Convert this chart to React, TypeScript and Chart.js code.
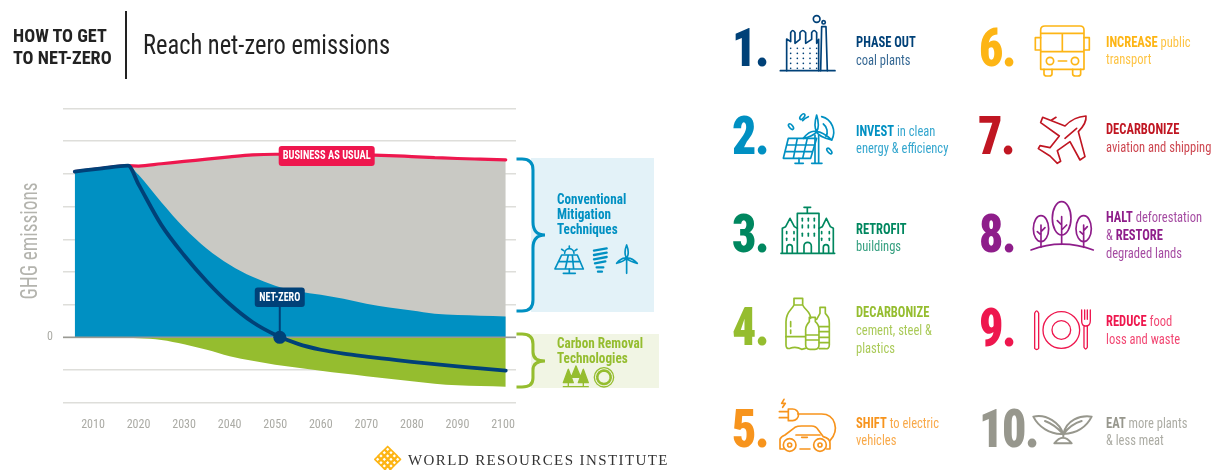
import React, { useEffect, useRef } from "react";
import { Chart, registerables } from "chart.js";

Chart.register(...registerables);

const FACE = "Roboto, sans-serif";

// Emission pathways, in gridline units, sampled on a shared list of years.
const years = [2006, 2012, 2017.7, 2020, 2025, 2030, 2035, 2040, 2045, 2050, 2055, 2060, 2065, 2070, 2075, 2080, 2085, 2090, 2095, 2100.6];
const businessAsUsual = [5.07, 5.17, 5.25, 5.24, 5.31, 5.38, 5.45, 5.52, 5.58, 5.6, 5.6, 5.6, 5.59, 5.58, 5.56, 5.53, 5.5, 5.47, 5.45, 5.43];
const withMitigation = [5.07, 5.17, 5.25, 4.97, 4.13, 3.35, 2.71, 2.22, 1.85, 1.58, 1.41, 1.3, 1.18, 1.03, 0.91, 0.82, 0.72, 0.68, 0.66, 0.64];
const carbonRemoval = [0, -0.005, -0.015, -0.03, -0.08, -0.21, -0.38, -0.58, -0.72, -0.84, -0.93, -1.02, -1.11, -1.19, -1.27, -1.34, -1.42, -1.47, -1.49, -1.51];
const netEmissions = [5.07, 5.17, 5.25, 4.68, 3.44, 2.51, 1.71, 1.02, 0.47, 0.08, -0.2, -0.38, -0.5, -0.59, -0.67, -0.75, -0.82, -0.89, -0.95, -1.02];

const tickYears = [2010, 2020, 2030, 2040, 2050, 2060, 2070, 2080, 2090, 2100];
const netZeroYear = 2051;
const xRange = [2003.42, 2102.85];
const yRange = [-2, 7];

const BLUE = "#0090C2";
const NAVY = "#004178";
const GREEN = "#95BD2F";
const RED = "#EE174E";

type Run = [string, boolean];
type Step = { n: string; x: number; base: number; color: string; tx: number; cy: number[]; lines: Run[][] };

const steps: Step[] = [
  { n: "1.", x: 732, base: 66, color: NAVY, tx: 856, cy: [43, 61], lines: [[["PHASE OUT", true]], [["coal plants", false]]] },
  { n: "2.", x: 732, base: 154, color: BLUE, tx: 856, cy: [132, 149], lines: [[["INVEST", true], [" in clean", false]], [["energy & efficiency", false]]] },
  { n: "3.", x: 732, base: 252, color: "#00875F", tx: 856, cy: [230, 247], lines: [[["RETROFIT", true]], [["buildings", false]]] },
  { n: "4.", x: 732, base: 345, color: GREEN, tx: 856, cy: [313, 331, 349], lines: [[["DECARBONIZE", true]], [["cement, steel &", false]], [["plastics", false]]] },
  { n: "5.", x: 732, base: 447, color: "#F7941D", tx: 856, cy: [424, 441], lines: [[["SHIFT", true], [" to electric", false]], [["vehicles", false]]] },
  { n: "6.", x: 979, base: 66, color: "#FDB515", tx: 1106, cy: [43, 60], lines: [[["INCREASE", true], [" public", false]], [["transport", false]]] },
  { n: "7.", x: 978, base: 154, color: "#C01622", tx: 1106, cy: [130, 148], lines: [[["DECARBONIZE", true]], [["aviation and shipping", false]]] },
  { n: "8.", x: 979, base: 252, color: "#8E1D8A", tx: 1106, cy: [218, 236, 254], lines: [[["HALT", true], [" deforestation", false]], [["& ", false], ["RESTORE", true]], [["degraded lands", false]]] },
  { n: "9.", x: 979, base: 346, color: RED, tx: 1106, cy: [322, 340], lines: [[["REDUCE", true], [" food", false]], [["loss and waste", false]]] },
  { n: "10.", x: 979, base: 447, color: "#97978D", tx: 1106, cy: [424, 441], lines: [[["EAT", true], [" more plants", false]], [["& less meat", false]]] },
];

// Pill labels and the marker stem, placed through the chart's own scales.
const calloutPlugin = {
  id: "callouts",
  afterDatasetsDraw(chart: any) {
    const { ctx, scales } = chart;
    const pill = (cx: number, cy: number, w: number, h: number, textW: number, color: string, text: string) => {
      ctx.save();
      ctx.fillStyle = color;
      ctx.beginPath();
      ctx.roundRect(cx - w / 2, cy - h / 2, w, h, 3);
      ctx.fill();
      ctx.fillStyle = "#fff";
      ctx.font = `bold condensed 12px ${FACE}`;
      ctx.textAlign = "center";
      ctx.textBaseline = "middle";
      ctx.fillText(text, cx, cy + 0.5, textW);
      ctx.restore();
    };
    const nx = scales.x.getPixelForValue(netZeroYear);
    const ny = scales.y.getPixelForValue(0);
    ctx.save();
    ctx.strokeStyle = NAVY;
    ctx.lineWidth = 2;
    ctx.beginPath();
    ctx.moveTo(nx, ny);
    ctx.lineTo(nx, ny - 32);
    ctx.stroke();
    ctx.restore();
    pill(nx, ny - 40, 50, 19.5, 41, NAVY, "NET-ZERO");
    pill(scales.x.getPixelForValue(2061.3), scales.y.getPixelForValue(5.55), 96, 20, 88, RED, "BUSINESS AS USUAL");
  },
};

function PathwayChart() {
  const ref = useRef<HTMLCanvasElement>(null);
  useEffect(() => {
    const toPoints = (values: number[]) => values.map((y, i) => ({ x: years[i], y }));
    const area = { cubicInterpolationMode: "monotone" as const, pointRadius: 0 };
    const tickFont = { family: FACE, size: 12, weight: "condensed" };
    const chart = new Chart(ref.current!, {
      type: "line",
      data: {
        datasets: [
          { label: "Business as usual", data: toPoints(businessAsUsual), order: 6, fill: "origin", backgroundColor: "#C9C9C4", borderColor: RED, borderWidth: 3.2, borderCapStyle: "round", ...area },
          { label: "Conventional mitigation", data: toPoints(withMitigation), order: 5, fill: "origin", backgroundColor: BLUE, borderWidth: 0, ...area },
          { label: "Carbon removal", data: toPoints(carbonRemoval), order: 4, fill: "origin", backgroundColor: GREEN, borderWidth: 0, ...area },
          { label: "Zero", data: [{ x: xRange[0], y: 0 }, { x: xRange[1], y: 0 }], order: 3, borderColor: "#9A9A94", borderWidth: 1.6, pointRadius: 0, fill: false },
          { label: "Net emissions", data: toPoints(netEmissions), order: 2, fill: false, borderColor: NAVY, borderWidth: 3.8, borderCapStyle: "round", ...area },
          { label: "Net-zero", data: [{ x: netZeroYear, y: 0 }], order: 1, showLine: false, pointRadius: 6.5, pointBackgroundColor: NAVY, pointBorderWidth: 0 },
        ] as any,
      },
      options: {
        animation: false,
        responsive: false,
        parsing: false,
        layout: { padding: { top: 108.5, right: 696, left: 0, bottom: 0 } },
        plugins: { legend: { display: false }, tooltip: { enabled: false } },
        scales: {
          x: {
            type: "linear",
            min: xRange[0],
            max: xRange[1],
            afterBuildTicks: (s: any) => { s.ticks = tickYears.map((value) => ({ value })); },
            afterFit: (s: any) => { s.height = 67.3; },
            grid: { display: false },
            border: { display: false },
            ticks: { color: "#ABABA5", font: tickFont, padding: 7, autoSkip: false, maxRotation: 0, callback: (v: any) => String(v) },
          },
          y: {
            min: yRange[0],
            max: yRange[1],
            afterFit: (s: any) => { s.width = 63; },
            grid: { color: "#DEDEDA", lineWidth: 1.5, drawTicks: false },
            border: { display: false },
            ticks: { stepSize: 1, color: "#ABABA5", font: tickFont, padding: 10, callback: (v: any) => (v === 0 ? "0" : "") },
          },
        },
      },
      plugins: [calloutPlugin],
    } as any);
    return () => chart.destroy();
  }, []);
  return <canvas ref={ref} width={1212} height={470} style={{ position: "absolute", left: 0, top: 0 }} />;
}

function Label(p: { x: number; cy: number; size: number; color: string; bold?: boolean; squeeze?: number; children: React.ReactNode }) {
  return (
    <div style={{ position: "absolute", left: p.x, top: p.cy - 15, height: 30, lineHeight: "30px", whiteSpace: "nowrap", fontFamily: FACE, fontStretch: "75%", fontSize: p.size, color: p.color, fontWeight: p.bold ? 700 : 400, transformOrigin: "0 50%", transform: `scaleX(${p.squeeze ?? 1})` }}>
      {p.children}
    </div>
  );
}

// Line-art pictograms, each drawn in its own local grid and scaled down by a third.
function Pictogram(p: { x: number; y: number; color: string; w?: number; children: React.ReactNode }) {
  return (
    <g transform={`translate(${p.x} ${p.y}) scale(0.3333)`} fill="none" stroke={p.color} strokeWidth={p.w ?? 6} strokeLinejoin="round" strokeLinecap="round">
      {p.children}
    </g>
  );
}

function Icons() {
  const dots: React.ReactNode[] = [];
  [212, 232, 250, 270, 290].forEach((x) => [145, 160, 175, 190, 205].forEach((y) => dots.push(<circle key={`${x}-${y}`} cx={x} cy={y} r={2.5} fill={NAVY} stroke="none" />)));
  const windows: React.ReactNode[] = [];
  [247, 265, 283].forEach((x) => [655, 675, 700].forEach((y) => windows.push(<path key={`${x}${y}`} d={`M${x} ${y}v8`} />)));
  [200, 222, 305, 328].forEach((x) => [695, 715].forEach((y) => windows.push(<path key={`s${x}${y}`} d={`M${x} ${y}v6`} />)));
  const lattice: React.ReactNode[] = [];
  for (let i = -3; i <= 3; i++) {
    for (let j = -3; j <= 3; j++) {
      if (Math.abs(i) + Math.abs(j) <= 3 && (i + j) % 2 !== 0) {
        lattice.push(<rect key={`${i}${j}`} x={173 + i * 10 - 6} y={1108 + j * 10 - 6} width={12} height={12} transform={`rotate(45 ${173 + i * 10} ${1108 + j * 10})`} />);
      }
    }
  }
  return (
    <svg width={1212} height={470} style={{ position: "absolute", left: 0, top: 0 }}>
      {/* braces and their backing panels */}
      <rect x={531} y={158} width={123} height={154} fill="#E3F2F8" />
      <rect x={531} y={334} width={128} height={54} fill="#F1F5E4" />
      <path d="M516.5 159 H522 Q533 159 533 170 V222 Q533 235 545 235 Q533 235 533 248 V300 Q533 311 522 311 H516.5" fill="none" stroke={BLUE} strokeWidth={3} />
      <path d="M516.5 334 H522 Q533 334 533 344 V352 Q533 361 545 361 Q533 361 533 370 V378 Q533 387 522 387 H516.5" fill="none" stroke={GREEN} strokeWidth={3} />

      {/* solar panel, bulb and turbine next to the mitigation bracket */}
      <Pictogram x={330} y={90} color={BLUE} w={5}>
        <path d="M695 495H742L760 537H675Z M715 495L706 537 M727 495L731 537 M685 515H751" />
        <path d="M718 537V550 M700 550H736 M704 490A14 14 0 0 1 732 490 M718 468V474 M695 478L701 482 M741 478L735 482" />
        <path d="M792 482L830 475 M792 495L830 488 M792 508L830 501 M795 520L826 514 M800 532H820 M804 545H816" strokeWidth={7} />
        <path d="M890 550V505 M890 465C884 480 884 495 890 505C896 495 896 480 890 465Z M860 520C872 517 884 512 890 505C878 502 868 510 860 520Z M922 520C912 510 902 502 890 505C896 512 908 517 922 520Z" />
      </Pictogram>

      {/* trees and biomass ring next to the removal bracket */}
      <Pictogram x={330} y={90} color={GREEN} w={4}>
        <path d="M715 838L700 878H730Z M738 828L724 862H752Z M760 838L745 878H775Z" fill={GREEN} />
        <path d="M700 890H775 M715 878V890 M760 878V890" />
        <circle cx={822} cy={862} r={29} />
        <circle cx={822} cy={862} r={20} strokeDasharray="3 4" strokeWidth={8} />
      </Pictogram>

      {/* footer lattice mark */}
      <Pictogram x={330} y={90} color="#FDB515" w={5}>{lattice}</Pictogram>

      <Pictogram x={720} y={0} color={NAVY} w={5}>
        <path d="M181 212H345" />
        <path d="M200 212V117L212 125V98Q218 85 225 98V130L240 118V98Q248 85 257 98V130L275 118V98Q282 85 290 98V130L296 118V212" />
        <path d="M302 212L305 80H318L322 212" />
        <circle cx={290} cy={57} r={10} />
        <circle cx={311} cy={67} r={5} />
        {dots}
      </Pictogram>

      <Pictogram x={720} y={0} color={BLUE} w={5}>
        <path d="M205 415H290L272 475H190Z M200 435H283 M195 455H278 M232 415L220 475 M262 415L248 475" />
        <path d="M237 475V490 M225 490H250 M285 405V490 M296 405V490 M275 490H306" />
        <path d="M290 345C284 365 284 385 290 395C296 385 296 365 290 345Z M250 415C265 412 282 405 290 395C275 390 260 402 250 415Z M335 420C322 408 305 395 290 395C292 405 315 415 335 420Z" />
        <path d="M305 350A48 48 0 0 1 335 420 M310 372A30 30 0 0 1 318 410 M248 362A48 48 0 0 1 265 350" />
        <ellipse cx={247} cy={350} rx={5} ry={10} transform="rotate(40 247 350)" />
        <ellipse cx={213} cy={380} rx={5} ry={10} transform="rotate(-40 213 380)" />
        <ellipse cx={328} cy={453} rx={5} ry={10} transform="rotate(-40 328 453)" />
      </Pictogram>

      <Pictogram x={720} y={0} color="#00875F" w={5}>
        <path d="M232 758V640H297V758 M262 640V622 M252 622H272" />
        <path d="M187 758V685L197 680L210 655L223 680L232 685 M297 685L307 680L319 655L331 680L340 685V758 M183 760H344" />
        <path d="M252 758V738A11 11 0 0 1 274 738V758 M201 758V742A8 8 0 0 1 217 742V758 M310 758V742A8 8 0 0 1 326 742V758" />
        {windows}
      </Pictogram>

      <Pictogram x={720} y={230} color={GREEN} w={5}>
        <path d="M222 205H248V225H222Z M222 225C215 240 198 245 198 275V345Q198 358 210 355Q228 348 245 358L256 355 M248 225C255 240 272 245 272 265" />
        <path d="M198 320H256 M212 275V290 M212 300V310" />
        <path d="M300 232H316V250C325 260 328 265 328 280V345Q328 358 315 356L298 356 M300 232V250L290 268 M298 290H328 M298 305H328 M298 322H328 M298 338H328" />
        <path d="M268 262H286V275C294 282 297 290 297 298V345Q297 358 285 358H270Q257 358 257 345V298C257 290 262 282 268 275Z M257 315H297 M257 330H297" />
      </Pictogram>

      <Pictogram x={720} y={230} color="#F7941D" w={5}>
        <path d="M192 508L185 520H196L188 532" />
        <path d="M205 537H218A15 15 0 0 1 218 572H205Z M205 545H178 M205 563H178" />
        <path d="M233 552H305C345 552 360 600 330 632" />
        <path d="M190 657H180V628Q182 620 195 615L225 592Q232 588 245 588H275Q288 588 295 600L310 620Q330 625 330 640V657H320 M270 657H240" />
        <path d="M228 615H300 M245 622H262" />
        <circle cx={209} cy={645} r={19} />
        <circle cx={209} cy={645} r={6} />
        <circle cx={300} cy={645} r={19} />
        <circle cx={300} cy={645} r={6} />
      </Pictogram>

      <Pictogram x={970} y={0} color="#FDB515" w={5}>
        <path d="M225 78H330Q342 78 342 90V208H212V90Q212 78 225 78Z M212 100H342 M212 155H342 M277 100V155" />
        <path d="M212 113H196V150H212 M342 113H358V150H342" />
        <circle cx={240} cy={183} r={11} />
        <circle cx={315} cy={183} r={11} />
        <path d="M265 183H290 M222 208V222Q222 228 230 228H238Q246 228 246 222V208 M308 208V222Q308 228 316 228H324Q332 228 332 222V208" />
      </Pictogram>

      <Pictogram x={970} y={0} color="#C01622" w={5}>
        <path d="M348 348C320 350 300 362 285 378L218 352L212 368L268 408L240 443L210 437L205 446L240 468L262 490L272 484L262 452L300 425L330 480L345 470L325 395C340 380 350 365 348 348Z" />
        <path d="M285 415L320 385 M245 360L258 352" />
      </Pictogram>

      <Pictogram x={970} y={0} color="#8E1D8A" w={5}>
        <ellipse cx={275} cy={655} rx={28} ry={50} />
        <ellipse cx={213} cy={686} rx={23} ry={39} />
        <ellipse cx={341} cy={686} rx={23} ry={39} />
        <path d="M183 750Q275 715 370 750" />
        <path d="M275 650V733 M275 675L262 662 M275 690L290 675 M213 675V742 M213 695L225 683 M213 705L202 695 M341 675V742 M341 692L352 680 M341 705L330 695" />
      </Pictogram>

      <Pictogram x={970} y={230} color={RED} w={4}>
        <path d="M194 355V250Q200 235 206 250V355Q200 362 194 355Z" />
        <circle cx={274} cy={300} r={55} />
        <circle cx={274} cy={300} r={28} />
        <path d="M335 240V272Q335 288 347 288Q361 288 361 272V240 M344 240V268 M352 240V268 M342 288V352Q347 362 352 352V288" />
      </Pictogram>

      <Pictogram x={970} y={230} color="#97978D" w={6}>
        <path d="M190 560C230 550 270 580 280 612C240 615 205 590 190 560Z M225 573C245 580 262 593 280 612" />
        <path d="M365 560C330 555 290 570 280 612C320 610 350 590 365 560Z M335 573C310 580 295 593 280 612" />
        <path d="M280 612V623 M253 640Q279 606 305 640Z" />
      </Pictogram>
    </svg>
  );
}

export default function App() {
  return (
    <div style={{ position: "absolute", left: 0, top: 0, width: 1212, height: 470, overflow: "hidden", background: "#fff" }}>
      <PathwayChart />
      <Icons />

      <Label x={13} cy={36} size={18.2} color="#222" bold>HOW TO GET</Label>
      <Label x={13} cy={58} size={18.2} color="#222" bold>TO NET-ZERO</Label>
      <div style={{ position: "absolute", left: 124.5, top: 11, width: 2, height: 68, background: "#222" }} />
      <Label x={143} cy={45} size={27} squeeze={0.905} color="#222">Reach net-zero emissions</Label>

      <div style={{ position: "absolute", left: 29, top: 241, fontFamily: FACE, fontStretch: "75%", fontSize: 23, color: "#B4B4AE", whiteSpace: "nowrap", transform: "translate(-50%,-50%) rotate(-90deg) scaleX(0.84)" }}>GHG emissions</div>

      {["Conventional", "Mitigation", "Techniques"].map((t, i) => (
        <Label key={t} x={557} cy={199 + i * 15} size={15} squeeze={0.88} color={BLUE} bold>{t}</Label>
      ))}
      {["Carbon Removal", "Technologies"].map((t, i) => (
        <Label key={t} x={557} cy={342.5 + i * 15} size={15} squeeze={0.88} color={GREEN} bold>{t}</Label>
      ))}

      {steps.map((s) => (
        <React.Fragment key={s.n}>
          <div style={{ position: "absolute", left: s.x, top: s.base - 44, height: 52, lineHeight: "52px", fontFamily: FACE, fontStretch: "75%", fontWeight: 900, fontSize: 53, letterSpacing: -1.5, color: s.color, whiteSpace: "nowrap", transformOrigin: "0 50%", transform: "scaleX(0.9)" }}>{s.n}</div>
          {s.lines.map((runs, i) => (
            <Label key={i} x={s.tx} cy={s.cy[i]} size={14.5} squeeze={0.865} color={s.color}>
              {runs.map(([text, bold], j) => (
                <span key={j} style={{ fontWeight: bold ? 700 : 400, opacity: bold ? 1 : 0.8, whiteSpace: "pre" }}>{text}</span>
              ))}
            </Label>
          ))}
        </React.Fragment>
      ))}

      <div style={{ position: "absolute", left: 408, top: 450, height: 20, lineHeight: "20px", whiteSpace: "nowrap", fontFamily: "'Liberation Serif', serif", fontSize: 15, letterSpacing: 1.4, color: "#333" }}>WORLD RESOURCES INSTITUTE</div>
    </div>
  );
}
